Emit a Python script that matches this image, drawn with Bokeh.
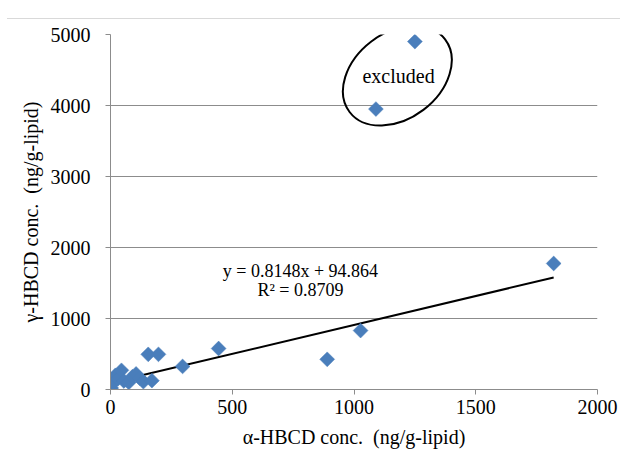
from bokeh.plotting import figure
from bokeh.models import Label, FixedTicker, Div
from bokeh.layouts import column
from bokeh.embed import file_html
from bokeh.resources import INLINE
import math

# Data
alpha_incl = [3, 10, 20, 30, 45, 55, 75, 90, 105, 120, 135, 155, 170, 197, 296, 444, 890, 1027, 1820]
gamma_incl = [20, 90, 200, 150, 270, 120, 100, 180, 220, 160, 110, 495, 125, 495, 325, 577, 425, 830, 1775]
alpha_excl = [1090, 1250]
gamma_excl = [3950, 4900]

slope = 0.8148
intercept = 94.864
r2 = 0.8709

x_ticks = [0, 500, 1000, 1500, 2000]
y_ticks = [0, 1000, 2000, 3000, 4000, 5000]

FONT = "Times New Roman"
BLUE = "#4A7EBB"
GRID = "#8C8C8C"

top_rule = Div(text="", width=613, height=14,
               styles={"border-bottom": "1px solid #D9D9D9", "margin-left": "7px", "box-sizing": "border-box"})

p = figure(width=620, height=430, output_backend="svg", toolbar_location=None,
           x_range=(0, 2000), y_range=(0, 5000),
           min_border_left=110, min_border_right=23, min_border_top=10, min_border_bottom=65)
p.outline_line_color = None
p.background_fill_color = "white"
p.border_fill_color = "white"

p.xgrid.grid_line_color = None
p.ygrid.grid_line_color = GRID
p.ygrid.grid_line_width = 1

for ax in (p.xaxis[0], p.yaxis[0]):
    ax.axis_line_color = GRID
    ax.major_tick_line_color = GRID
    ax.minor_tick_line_color = None
    ax.major_tick_in = 0
    ax.major_tick_out = 5
    ax.major_label_text_font = FONT
    ax.major_label_text_font_size = "20px"
    ax.major_label_text_font_style = "normal"
    ax.major_label_text_color = "black"
    ax.axis_label_text_font = FONT
    ax.axis_label_text_font_size = "20px"
    ax.axis_label_text_font_style = "normal"
    ax.axis_label_text_color = "black"

p.xaxis[0].ticker = FixedTicker(ticks=x_ticks)
p.yaxis[0].ticker = FixedTicker(ticks=y_ticks)
p.ygrid[0].ticker = FixedTicker(ticks=y_ticks)
p.xaxis[0].axis_label = "α-HBCD conc. \u00a0(ng/g-lipid)"
p.yaxis[0].axis_label = "γ-HBCD conc. \u00a0(ng/g-lipid)"
p.xaxis[0].major_label_standoff = 5
p.xaxis[0].axis_label_standoff = 9
p.yaxis[0].major_label_standoff = 15
p.yaxis[0].axis_label_standoff = 6

# trend line over range of included data
x0, x1 = min(alpha_incl), max(alpha_incl)
p.line([x0, x1], [slope * x0 + intercept, slope * x1 + intercept], line_color="black", line_width=2)

# points
all_x = alpha_incl + alpha_excl
all_y = gamma_incl + gamma_excl
p.scatter(all_x, all_y, marker="square", size=10.5, angle=math.pi / 4,
          fill_color=BLUE, line_color=BLUE, line_width=0.5)

# ellipse around excluded points
p.ellipse(x=[1178], y=[4420], width=120, height=86, width_units="screen", height_units="screen",
          angle=0.65, fill_color=None, line_color="black", line_width=2)

p.add_layout(Label(x=1183, y=4420, text="excluded", text_font=FONT, text_font_size="20px",
                   text_align="center", text_baseline="middle", text_color="black"))
p.add_layout(Label(x=780, y=1676, text=f"y = {slope}x + {intercept}", text_font=FONT,
                   text_font_size="18px", text_align="center", text_baseline="middle", text_color="black"))
p.add_layout(Label(x=780, y=1408, text=f"R² = {r2}", text_font=FONT,
                   text_font_size="18px", text_align="center", text_baseline="middle", text_color="black"))

layout = column(top_rule, p, spacing=0)
open("out.html", "w").write(file_html(layout, INLINE))
